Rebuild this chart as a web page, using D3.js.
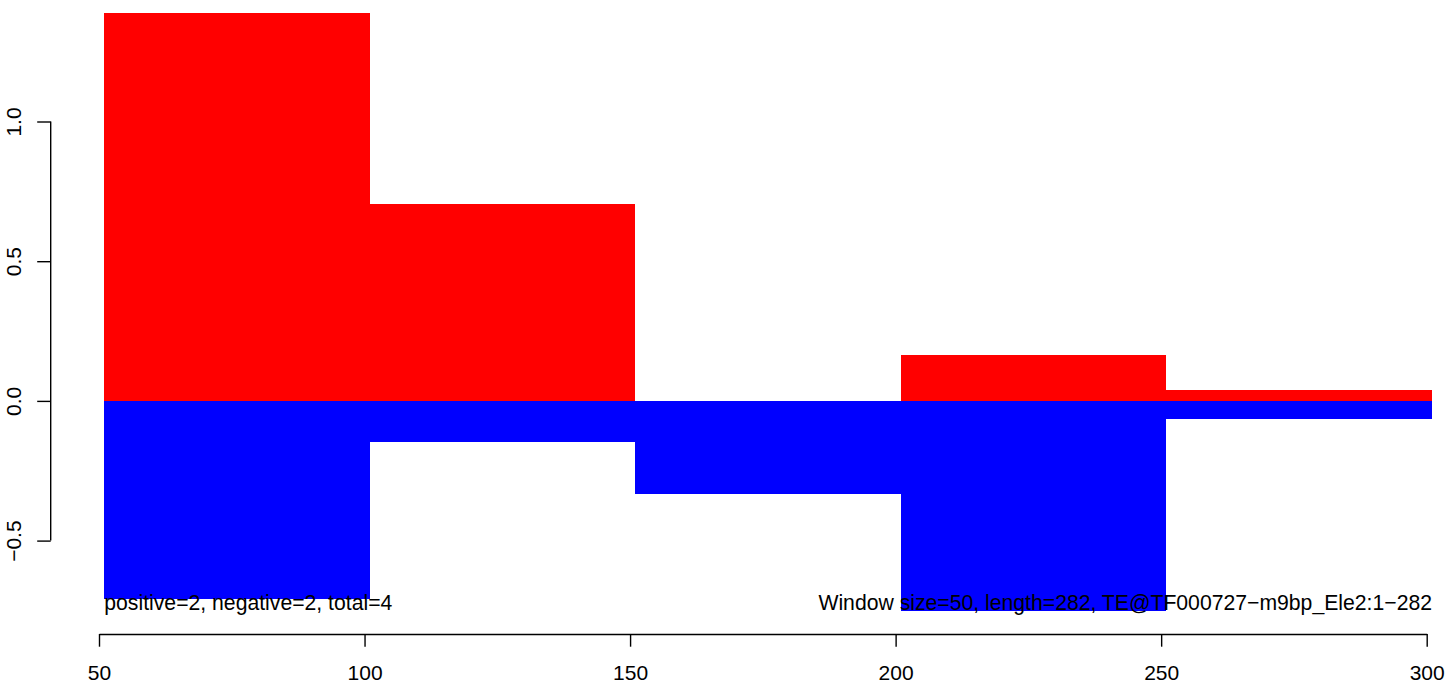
<!DOCTYPE html>
<html>
<head>
<meta charset="utf-8">
<script src="https://cdn.jsdelivr.net/npm/d3@7"></script>
<style>
  html, body { margin: 0; padding: 0; background: #fff; }
  svg { display: block; }
  text { font-family: "Liberation Sans", Arial, Helvetica, sans-serif; fill: #000; }
</style>
</head>
<body>
<svg id="chart" width="1449" height="685"></svg>
<script>
// ---- data ----
const windowStart = [51, 101, 151, 201, 251];
const windowEnd   = [101, 151, 201, 251, 301];
const positive    = [1.389, 0.705, 0.0, 0.165, 0.039];
const negative    = [-0.709, -0.148, -0.335, -0.751, -0.063];
const xTicks      = [50, 100, 150, 200, 250, 300];
const yTicks      = [-0.5, 0.0, 0.5, 1.0];
const yTickLabels = ["\u22120.5", "0.0", "0.5", "1.0"];
const leftNote    = "positive=2, negative=2, total=4";
const rightNote   = "Window size=50, length=282, TE@TF000727\u2212m9bp_Ele2:1\u2212282";
const noteY       = -0.748;

// ---- layout ----
const svg = d3.select("#chart");
const x = d3.scaleLinear().domain([50, 300]).range([99, 1426.7]);
const y = d3.scaleLinear().domain([-0.5, 1.0]).range([540.6, 121.5]);
const fs = 21;
const noteFs = 21.2;

// bars: positive (red) then negative (blue)
const idx = d3.range(windowStart.length);
svg.append("g").attr("shape-rendering", "crispEdges").selectAll("rect").data(idx).join("rect")
  .attr("x", i => x(windowStart[i]))
  .attr("width", i => x(windowEnd[i]) - x(windowStart[i]))
  .attr("y", i => y(positive[i]))
  .attr("height", i => y(0) - y(positive[i]))
  .attr("fill", "#ff0000");
svg.append("g").attr("shape-rendering", "crispEdges").selectAll("rect").data(idx).join("rect")
  .attr("x", i => x(windowStart[i]))
  .attr("width", i => x(windowEnd[i]) - x(windowStart[i]))
  .attr("y", y(0))
  .attr("height", i => y(negative[i]) - y(0))
  .attr("fill", "#0000ff");

// annotations
svg.append("text")
  .attr("x", x(windowStart[0])).attr("y", y(noteY))
  .attr("font-size", noteFs).attr("text-anchor", "start")
  .text(leftNote);
svg.append("text")
  .attr("x", x(windowEnd[windowEnd.length - 1])).attr("y", y(noteY))
  .attr("font-size", noteFs).attr("text-anchor", "end")
  .text(rightNote);

// x axis
const xAxisY = 634;
const xAxis = d3.axisBottom(x).tickValues(xTicks).tickSize(12.7).tickSizeOuter(0)
  .tickFormat(d3.format("d"));
const gx = svg.append("g").attr("transform", `translate(0,${xAxisY})`).call(xAxis);
gx.selectAll("path, line").attr("stroke", "#000").attr("stroke-width", 1.4);
gx.selectAll("text").attr("font-size", fs).attr("font-family", null)
  .attr("y", 46).attr("dy", null);

// y axis
const yAxisX = 50.7;
const yAxis = d3.axisLeft(y).tickValues(yTicks).tickSize(13.5).tickSizeOuter(0)
  .tickFormat((d, i) => yTickLabels[i]);
const gy = svg.append("g").attr("transform", `translate(${yAxisX},0)`).call(yAxis);
gy.select(".domain").attr("d", `M0,${y(yTicks[0])}V${y(yTicks[yTicks.length - 1])}`);
gy.selectAll("path, line").attr("stroke", "#000").attr("stroke-width", 1.4);
gy.selectAll(".tick text")
  .attr("font-size", fs).attr("font-family", null)
  .attr("x", null).attr("dy", null)
  .attr("text-anchor", "middle")
  .attr("transform", `translate(${21 - yAxisX},0) rotate(-90)`);
</script>
</body>
</html>
